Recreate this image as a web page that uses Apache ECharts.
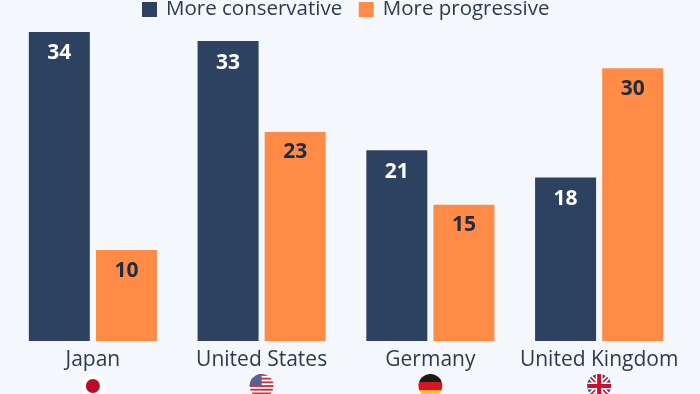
<!DOCTYPE html>
<html><head><meta charset="utf-8">
<style>html,body{margin:0;padding:0;background:#f4f8fc}#c{width:700px;height:394px}</style>
<script src="https://cdn.jsdelivr.net/npm/echarts@6/dist/echarts.min.js"></script></head>
<body><div id="c"></div>
<script>
const categories = ['Japan', 'United States', 'Germany', 'United Kingdom'];
const conservative = [34, 33, 21, 18];
const progressive = [10, 23, 15, 30];
const seriesNames = ['More conservative', 'More progressive'];
const flagKeys = ['jp', 'us', 'de', 'uk'];

const svg = inner => 'data:image/svg+xml;charset=utf-8,' + encodeURIComponent(
  '<svg xmlns="http://www.w3.org/2000/svg" width="26" height="26" viewBox="0 0 26 26"><defs><clipPath id="k"><circle cx="13" cy="13" r="12"/></clipPath></defs><g clip-path="url(#k)">' + inner + '</g></svg>');
let usStripes = '';
for (let i = 0; i < 7; i++) usStripes += '<rect x="0" y="' + (1 + i * 3.7) + '" width="26" height="1.85" fill="#c8313e"/>';
const flags = {
  jp: svg('<rect width="26" height="26" fill="#fff"/><circle cx="13" cy="13" r="7" fill="#bc0a2b"/>') ,
  us: svg('<rect width="26" height="26" fill="#fff"/>' + usStripes + '<rect width="13" height="13" fill="#5a5f96"/>'),
  de: svg('<rect width="26" height="9" fill="#1a1a1a"/><rect y="9" width="26" height="8.5" fill="#d8161f"/><rect y="17.5" width="26" height="9" fill="#ffcd00"/>'),
  uk: svg('<rect width="26" height="26" fill="#27407e"/><path d="M0 0L26 26M26 0L0 26" stroke="#fff" stroke-width="5"/><path d="M0 0L26 26M26 0L0 26" stroke="#c8102e" stroke-width="1.6"/><path d="M13 0V26M0 13H26" stroke="#fff" stroke-width="7"/><path d="M13 0V26M0 13H26" stroke="#c8102e" stroke-width="4"/>')
};
const rich = { name: { fontFamily: 'Open Sans', fontSize: 21, color: '#2b3a4e', lineHeight: 26 } };
flagKeys.forEach(k => { rich[k] = { width: 26, height: 26, lineHeight: 26, backgroundColor: { image: flags[k] } }; });

const chart = echarts.init(document.getElementById('c'), null, { renderer: 'canvas' });
chart.setOption({
  animation: false,
  backgroundColor: '#f4f8fc',
  color: ['#2d4261', '#ff8b47'],
  legend: {
    left: 137, top: -6, itemWidth: 15, itemHeight: 15, itemGap: 16.5,
    icon: 'rect', selectedMode: false,
    textStyle: { fontFamily: 'Open Sans', fontSize: 20.5, color: '#2b3a4e', padding: [0, 0, 0, 4] },
    data: seriesNames
  },
  grid: { left: 8.5, right: 16.5, top: 32, bottom: 53, outerBoundsMode: 'none' },
  xAxis: {
    type: 'category', data: categories,
    axisLine: { show: false }, axisTick: { show: false },
    axisLabel: {
      interval: 0, margin: 6, rich,
      formatter: (v, i) => '{name|' + v + '}\n{' + flagKeys[i] + '|}'
    }
  },
  yAxis: { type: 'value', min: 0, max: 34, show: false, splitLine: { show: false } },
  series: [
    { name: seriesNames[0], type: 'bar', data: conservative, barWidth: 61, barGap: '10%',
      label: { show: true, position: 'insideTop', distance: 11, fontFamily: 'Open Sans', fontWeight: 'bold', fontSize: 21, color: '#fff' } },
    { name: seriesNames[1], type: 'bar', data: progressive, barWidth: 61,
      label: { show: true, position: 'insideTop', distance: 10, fontFamily: 'Open Sans', fontWeight: 'bold', fontSize: 21, color: '#1f2c3d' } }
  ]
});
</script></body></html>
